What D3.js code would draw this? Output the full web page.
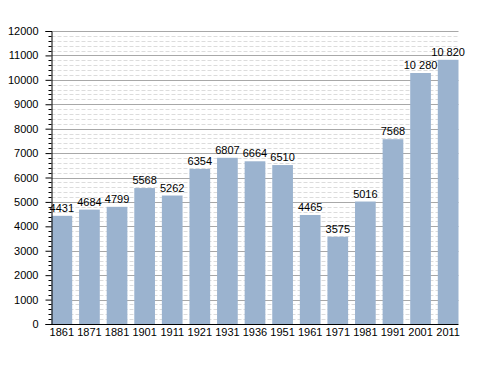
<!DOCTYPE html>
<html>
<head>
<meta charset="utf-8">
<script src="https://cdn.jsdelivr.net/npm/d3@7"></script>
<style>
  body { margin: 0; background: #fff; }
  svg { font-family: "Liberation Sans", Arial, sans-serif; }
</style>
</head>
<body>
<div id="chart"></div>
<script>
"use strict";

// Data
// ----

var years  = ["1861","1871","1881","1901","1911","1921","1931","1936",
              "1951","1961","1971","1981","1991","2001","2011"];
var values = [4431, 4684, 4799, 5568, 5262, 6354, 6807, 6664,
              6510, 4465, 3575, 5016, 7568, 10280, 10820];
var yTicks = [0,1000,2000,3000,4000,5000,6000,7000,8000,9000,10000,11000,12000];


// Box sizing

var W = 488, H = 373,
    pLeft = 51.5, pRight = 458.5,
    pTop = 31, pBottom = 324;

var svg = d3.select("#chart").append("svg")
    .attr("width", W).attr("height", H);

var x = d3.scaleBand().domain(years)
    .range([pLeft, pRight]).paddingInner(0.25).paddingOuter(0.0);

var y = d3.scaleLinear().domain([0, 12000]).range([pBottom, pTop]);

var minor = d3.range(0, 12001, 200).filter(function(d){ return d % 1000 != 0; });


// Grid

svg.append("g").selectAll("line").data(minor).join("line")
    .attr("x1", pLeft).attr("x2", pRight)
    .attr("y1", function(d){ return Math.round(y(d)) + 0.5; })
    .attr("y2", function(d){ return Math.round(y(d)) + 0.5; })
    .attr("stroke", "#dcdcdc").attr("stroke-dasharray", "4,2");

svg.append("g").selectAll("line").data(yTicks.slice(1)).join("line")
    .attr("x1", pLeft).attr("x2", pRight)
    .attr("y1", function(d){ return Math.round(y(d)) + 0.5; })
    .attr("y2", function(d){ return Math.round(y(d)) + 0.5; })
    .attr("stroke", "#a8a8a8");


// Bars

svg.append("g").selectAll("rect").data(values).join("rect")
    .attr("x", function(d, i){ return x(years[i]); })
    .attr("width", x.bandwidth())
    .attr("y", function(d){ return y(d); })
    .attr("height", function(d){ return pBottom - y(d); })
    .attr("fill", "#9bb3cf");

var fmt = function(v) {
  return v >= 10000 ? d3.format(",")(v).replace(",", " ") : String(v);
};

svg.append("g").selectAll("text").data(values).join("text")
    .attr("x", function(d, i){ return x(years[i]) + x.bandwidth() / 2; })
    .attr("y", function(d){ return y(d) - 4; })
    .attr("text-anchor", "middle")
    .attr("font-size", 11)
    .attr("fill", "#000")
    .text(fmt);


// Axes

var yAxis = d3.axisLeft(y).tickValues(yTicks).tickSize(6).tickFormat(d3.format("d"));
var ga = svg.append("g").attr("transform", "translate(" + pLeft + ",0)").call(yAxis);
ga.select(".domain").attr("stroke", "#000");
ga.selectAll("text").attr("font-size", 11).attr("font-family", null).attr("x", -13);

svg.append("g").selectAll("line").data(minor).join("line")
    .attr("x1", pLeft - 3).attr("x2", pLeft)
    .attr("y1", function(d){ return Math.round(y(d)) + 0.5; })
    .attr("y2", function(d){ return Math.round(y(d)) + 0.5; })
    .attr("stroke", "#000");

svg.append("line")
    .attr("x1", pLeft).attr("x2", pRight)
    .attr("y1", pBottom + 0.5).attr("y2", pBottom + 0.5)
    .attr("stroke", "#000");

svg.append("g").selectAll("text").data(years).join("text")
    .attr("x", function(d){ return x(d) + x.bandwidth() / 2; })
    .attr("y", pBottom + 12)
    .attr("text-anchor", "middle")
    .attr("font-size", 11)
    .text(function(d){ return d; });
</script>
</body>
</html>
